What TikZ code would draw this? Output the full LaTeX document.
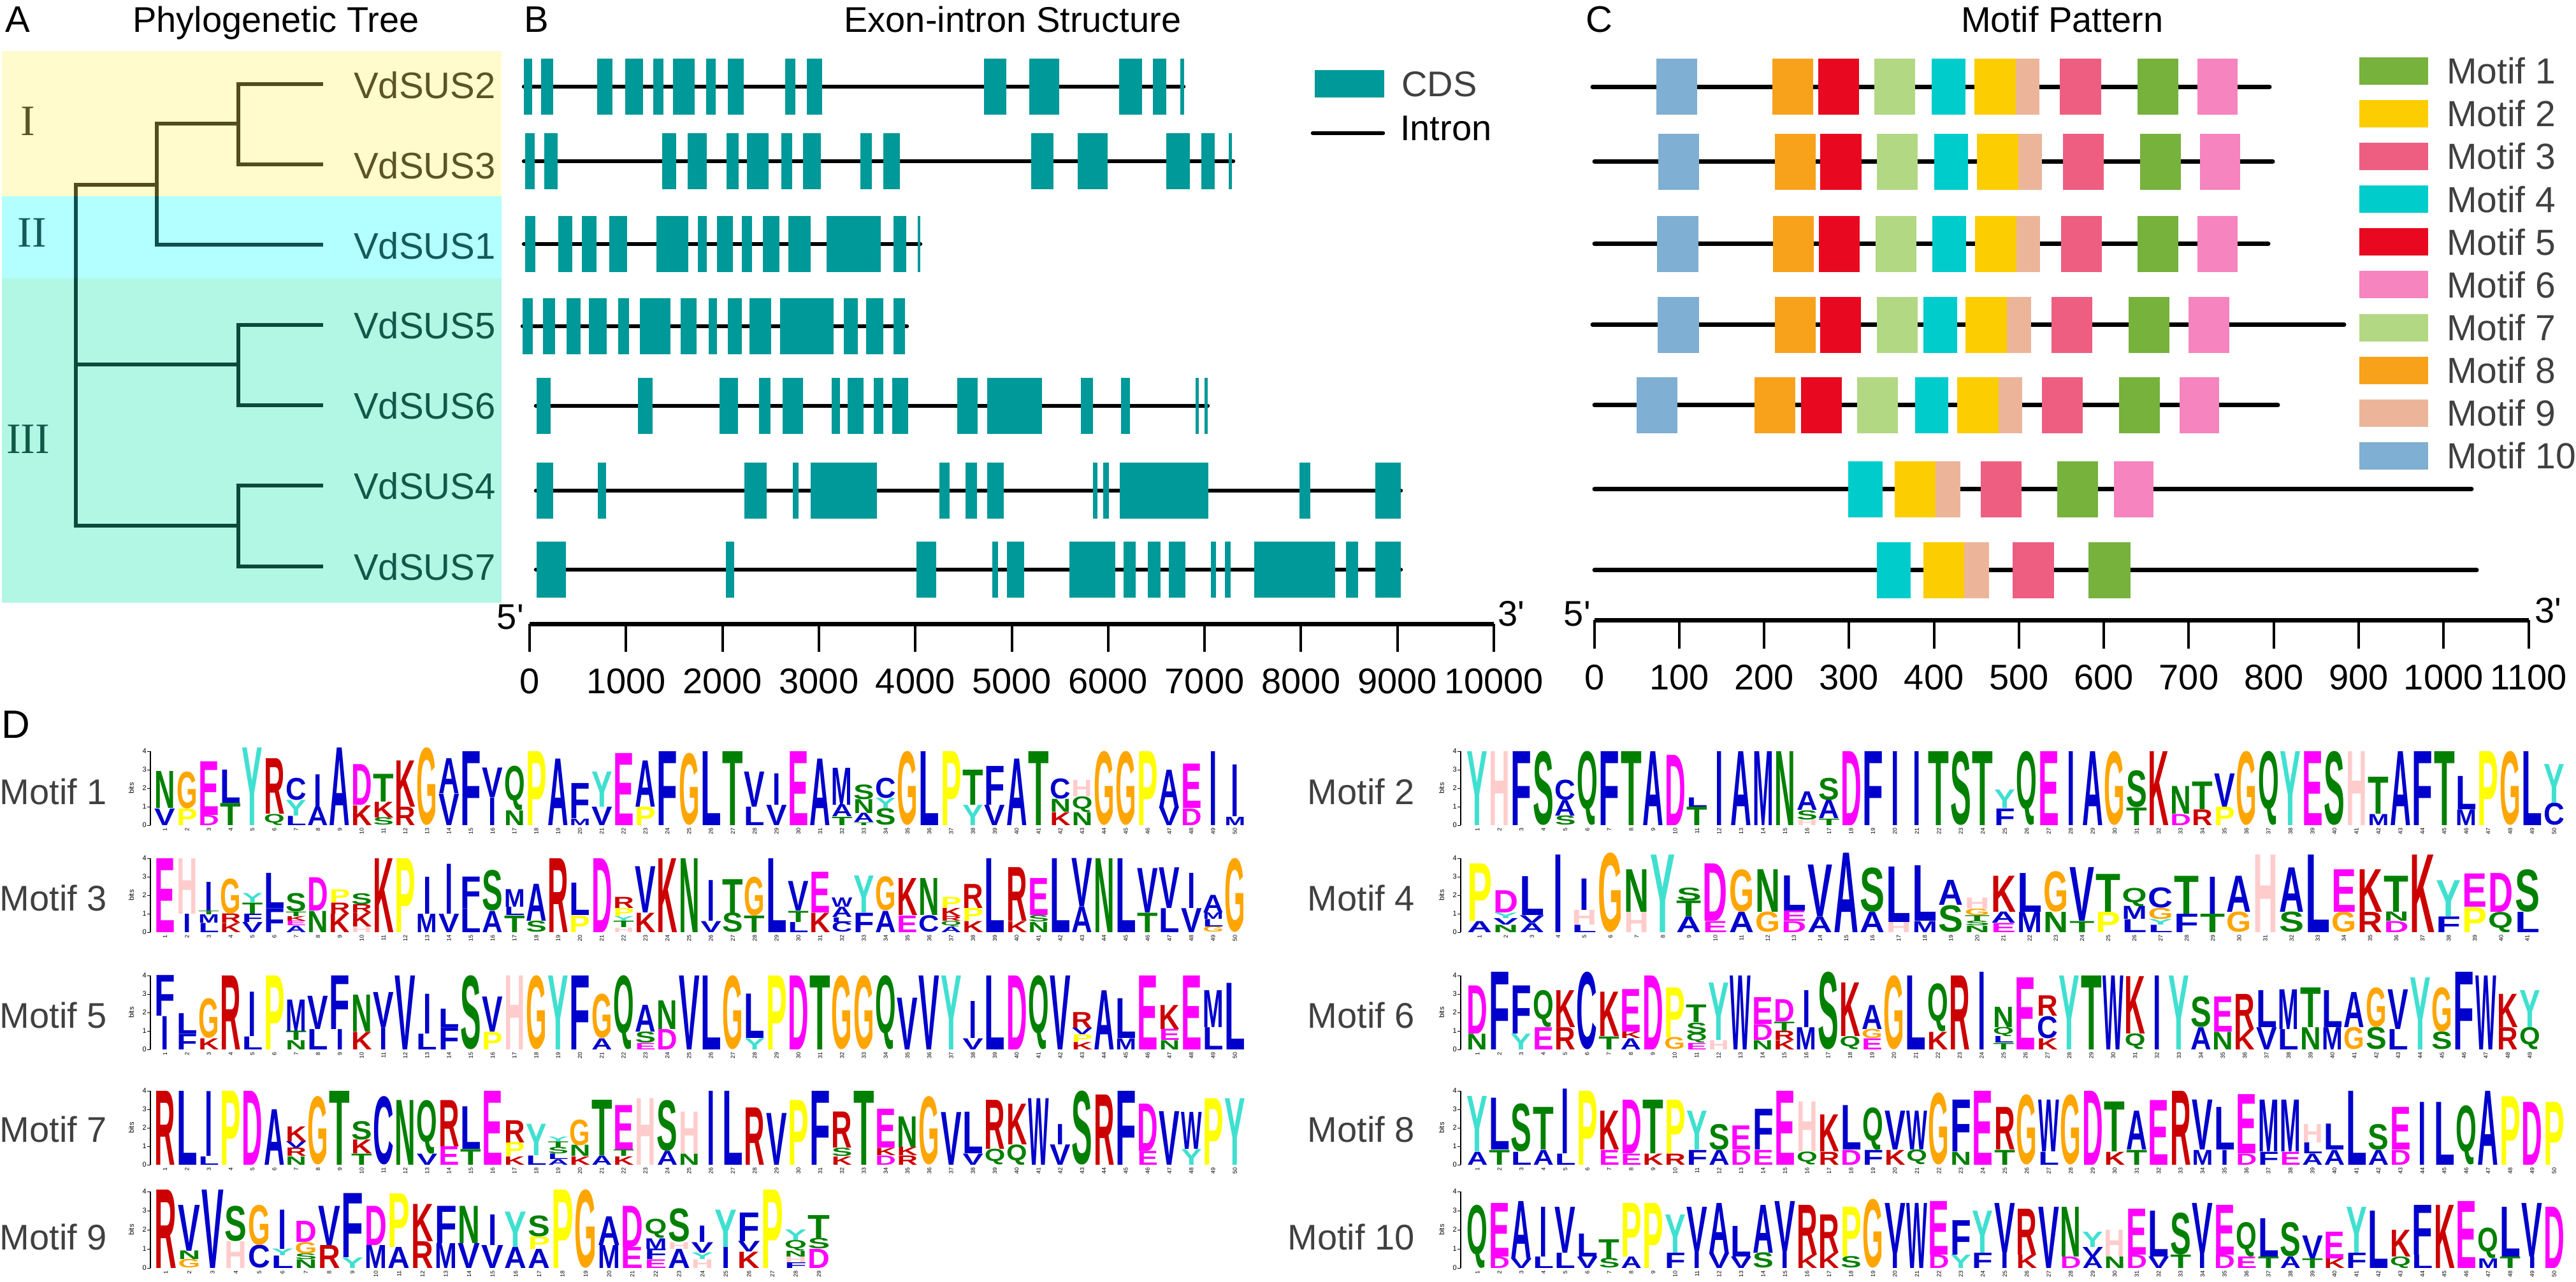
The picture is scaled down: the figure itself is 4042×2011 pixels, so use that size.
\documentclass[tikz,border=0pt]{standalone}
\usepackage{fontspec}
\usepackage{graphicx}
\setmainfont{Liberation Sans}
\newfontfamily\plainsans{Liberation Sans}
\newfontfamily\serifnum{Liberation Serif}
\definecolor{yelband}{RGB}{255,251,204}
\definecolor{cyaband}{RGB}{179,255,255}
\definecolor{mintband}{RGB}{178,246,228}
\definecolor{olv}{RGB}{84,76,30}
\definecolor{olvtxt}{RGB}{92,84,36}
\definecolor{tealII}{RGB}{14,80,80}
\definecolor{tealIItxt}{RGB}{20,90,90}
\definecolor{tealIII}{RGB}{12,74,60}
\definecolor{tealIIItxt}{RGB}{16,88,72}
\definecolor{cdscol}{RGB}{0,153,153}
\definecolor{legtext}{RGB}{64,64,64}
\definecolor{m1}{RGB}{118,178,60}
\definecolor{m2}{RGB}{252,205,0}
\definecolor{m3}{RGB}{238,94,128}
\definecolor{m4}{RGB}{0,204,204}
\definecolor{m5}{RGB}{232,9,33}
\definecolor{m6}{RGB}{246,132,190}
\definecolor{m7}{RGB}{178,216,132}
\definecolor{m8}{RGB}{248,162,28}
\definecolor{m9}{RGB}{236,181,154}
\definecolor{m10}{RGB}{127,175,210}
% amino acid colours
\definecolor{cA}{RGB}{0,0,204}\definecolor{cC}{RGB}{0,0,204}\definecolor{cF}{RGB}{0,0,204}
\definecolor{cI}{RGB}{0,0,204}\definecolor{cL}{RGB}{0,0,204}\definecolor{cM}{RGB}{0,0,204}
\definecolor{cV}{RGB}{0,0,204}\definecolor{cW}{RGB}{0,0,204}
\definecolor{cN}{RGB}{0,128,0}\definecolor{cQ}{RGB}{0,128,0}\definecolor{cS}{RGB}{0,128,0}\definecolor{cT}{RGB}{0,128,0}
\definecolor{cD}{RGB}{255,0,255}\definecolor{cE}{RGB}{255,0,255}
\definecolor{cK}{RGB}{204,0,0}\definecolor{cR}{RGB}{204,0,0}
\definecolor{cH}{RGB}{255,204,204}
\definecolor{cG}{RGB}{255,165,0}
\definecolor{cP}{RGB}{255,255,0}
\definecolor{cY}{RGB}{64,224,208}
% width factors for narrow letters
\def\wfI{0.38}

\newcommand\drawlogo[5]{% #1 x0, #2 zero line y, #3 column width, #4 px per bit, #5 columns
  \pgfmathsetmacro\ww{#3*0.95}%
  \foreach \stk [count=\ci] in {#5} {%
    \pgfmathsetmacro\xx{#1+(\ci-1)*#3+#3*0.025}%
    \xdef\ybot{#2}%
    \foreach \ltr/\hgt in \stk {%
      \pgfmathsetmacro\hh{\hgt*#4}%
      \ifcsname wf\ltr\endcsname
        \pgfmathsetmacro\wl{\ww*\csname wf\ltr\endcsname}%
      \else
        \let\wl\ww
      \fi
      \pgfmathsetmacro\xl{\xx+(\ww-\wl)/2}%
      \node[anchor=south west,inner sep=0pt,outer sep=0pt] at (\xl,\ybot) {\resizebox*{\wl pt}{\hh pt}{\bfseries\color{c\ltr}\ltr}};%
      \pgfmathsetmacro\nb{\ybot-\hh}%
      \xdef\ybot{\nb}%
    }%
    \node[rotate=90,anchor=east,inner sep=0pt,font=\fontsize{9}{9}\selectfont] at (\xx+#3*0.475,#2+4) {\ci};%
  }%
}
\newcommand\logoaxis[3]{% #1 axis x, #2 zero line y, #3 px per bit
  \draw[line width=1.2pt] (#1,#2) -- (#1,#2-4*#3);
  \foreach \k in {0,...,4} {%
    \draw[line width=1pt] (#1-5,#2-\k*#3) -- (#1,#2-\k*#3);
    \node[anchor=east,inner sep=1pt,font=\fontsize{11}{11}\selectfont] at (#1-5,#2-\k*#3) {\k};
  }
  \node[rotate=90,inner sep=0pt,font=\fontsize{11}{11}\selectfont] at (#1-30,#2-2*#3) {bits};
}

\begin{document}
\begin{tikzpicture}[x=1pt,y=-1pt,
  ttl/.style={font=\fontsize{56}{60}\selectfont,inner sep=0pt,anchor=base},
  plbl/.style={font=\fontsize{58}{60}\selectfont,inner sep=0pt,anchor=base west},
  leaf/.style={font=\fontsize{58}{60}\selectfont,inner sep=0pt,anchor=west},
  roman/.style={font=\serifnum\fontsize{68}{70}\selectfont,inner sep=0pt},
  axlbl/.style={font=\fontsize{56}{60}\selectfont,inner sep=0pt},
  primelbl/.style={font=\plainsans\fontsize{56}{60}\selectfont,inner sep=0pt},
  treeln/.style={line width=6pt},
  intron/.style={line width=6.5pt,line cap=round},
  axisln/.style={line width=7pt},
  tickln/.style={line width=4pt},
  leg/.style={font=\fontsize{57}{60}\selectfont,inner sep=0pt,anchor=west,text=legtext},
  mlab/.style={font=\fontsize{56}{60}\selectfont,inner sep=0pt,anchor=east,text=legtext}]
\useasboundingbox (0,0) rectangle (4042,2011);
\fill[white] (0,0) rectangle (4042,2011);

% ================= Panel A =================
\node[plbl] (labA) at (8,50) {A};
\node[ttl] (titA) at (433,50) {Phylogenetic Tree};
\fill[yelband] (3,80) rectangle (787,307.5);
\fill[cyaband] (3,307.5) rectangle (787,436.6);
\fill[mintband] (3,436.6) rectangle (787,946);
\node[roman,text=olvtxt] (rI) at (44,190) {I};
\node[roman,text=tealIItxt] (rII) at (50,365) {II};
\node[roman,text=tealIIItxt] (rIII) at (44,689) {III};

\coordinate (root) at (119,290.1);
\coordinate (nA) at (246,290.1);
\coordinate (nB) at (374,193.6);
\coordinate (nC) at (374,572.4);
\coordinate (nD) at (374,825.2);
\coordinate (e2) at (507,131.9);
\coordinate (e3) at (507,258.1);
\coordinate (e1) at (507,384.4);
\coordinate (e5) at (507,509.5);
\coordinate (e6) at (507,635.8);
\coordinate (e4) at (507,761.5);
\coordinate (e7) at (507,889);

\draw[treeln,olv] (119,307.5) -- (root) -- (nA) -- (246,193.6) -- (nB);
\draw[treeln,olv] (nA) -- (246,307.5);
\draw[treeln,olv] (nB) |- (e2);
\draw[treeln,olv] (nB) |- (e3);
\draw[treeln,tealII] (246,307.5) |- (e1);
\draw[treeln,tealII] (119,307.5) -- (119,436.6);
\draw[treeln,tealIII] (119,436.6) |- (nD);
\draw[treeln,tealIII] (119,572.4) -- (nC);
\draw[treeln,tealIII] (nC) |- (e5);
\draw[treeln,tealIII] (nC) |- (e6);
\draw[treeln,tealIII] (nD) |- (e4);
\draw[treeln,tealIII] (nD) |- (e7);

\node[leaf,text=olvtxt] (t2) at (555,134) {VdSUS2};
\node[leaf,text=olvtxt] (t3) at (555,260) {VdSUS3};
\node[leaf,text=tealIItxt] (t1) at (555,386) {VdSUS1};
\node[leaf,text=tealIIItxt] (t5) at (555,511) {VdSUS5};
\node[leaf,text=tealIIItxt] (t6) at (555,637) {VdSUS6};
\node[leaf,text=tealIIItxt] (t4) at (555,763) {VdSUS4};
\node[leaf,text=tealIIItxt] (t7) at (555,890) {VdSUS7};

% ================= Panel B =================
\node[plbl] (labB) at (822,50) {B};
\node[ttl] (titB) at (1589,50) {Exon-intron Structure};

\newcommand\generow[4]{% y, start, end, exons
  \draw[intron] (#2,#1) -- (#3,#1);
  \foreach \a/\b in {#4} {\fill[cdscol] (\a,#1-44) rectangle (\b,#1+44);}
}
\generow{136}{822}{1857}{822/835,849/868,937/961,981/1009,1025/1041,1056/1090,1108/1123,1142/1167,1232/1248,1266/1290,1544/1579,1615/1662,1756/1792,1809/1830,1852/1858}
\generow{253}{822}{1935}{824/839,854/875,1039/1061,1079/1109,1140/1159,1172/1206,1226/1243,1260/1288,1350/1368,1386/1412,1618/1653,1691/1738,1830/1867,1885/1906,1928/1933}
\generow{383}{822}{1444}{824/840,876/898,913/936,956/984,1030/1080,1095/1109,1125/1150,1164/1180,1197/1223,1237/1272,1297/1382,1402/1422,1440/1444}
\generow{512}{820}{1423}{820/836,852/871,889/911,924/952,970/987,1004/1052,1068/1093,1112/1125,1142/1164,1176/1210,1224/1308,1324/1346,1359/1386,1402/1420}
\generow{637}{841}{1895}{842/864,1001/1024,1129/1158,1191/1209,1228/1260,1305/1318,1330/1355,1371/1386,1400/1425,1502/1534,1549/1635,1696/1715,1759/1773,1876/1881,1890/1895}
\generow{770}{841}{2198}{842/868,938/951,1168/1203,1244/1253,1272/1376,1474/1490,1515/1533,1549/1575,1715/1722,1731/1740,1757/1896,2039/2056,2158/2198}
\generow{894}{841}{2198}{842/888,1139/1152,1438/1469,1557/1566,1580/1607,1678/1750,1763/1782,1801/1821,1834/1860,1900/1908,1922/1931,1968/2095,2112/2131,2158/2198}

% legend B
\fill[cdscol] (2063,110) rectangle (2172,153);
\node[leaf,font=\fontsize{56}{60}\selectfont,text=legtext] (legcds) at (2199,132) {CDS};
\coordinate (intA) at (2060,209);
\coordinate (intB) at (2170,209);
\draw[intron] (intA) -- (intB);
\node[leaf,font=\fontsize{56}{60}\selectfont] (legint) at (2197,202) {Intron};

% axis B
\coordinate (axB0) at (831,979);
\coordinate (axB1) at (2344,979);
\draw[axisln] (axB0) -- (axB1);
\foreach \k in {0,...,10} {
  \pgfmathsetmacro\tx{831+151.3*\k}
  \draw[tickln] (\tx,979) -- (\tx,1023);
  \pgfmathtruncatemacro\lab{\k*1000}
  \node[axlbl] at (\tx,1069) {\lab};
}
\node[primelbl,anchor=base east] (fiveB) at (822,987) {5'};
\node[primelbl,anchor=base west] (threeB) at (2350,982) {3'};

% ================= Panel C =================
\node[plbl] (labC) at (2488,50) {C};
\node[ttl] (titC) at (3236,50) {Motif Pattern};

\newcommand\protrow[4]{% y, start, end, motifs
  \draw[intron,line width=7pt] (#2,#1) -- (#3,#1);
  \foreach \a/\b/\m in {#4} {\fill[fill=m\m] (\a,#1-44) rectangle (\b,#1+44);}
}
\protrow{136.4}{2499}{3561}{2599/2663/10,2781/2845/8,2853/2917/5,2941/3005/7,3031/3084/4,3098/3163/2,3163/3200/9,3232/3297/3,3354/3418/1,3448/3511/6}
\protrow{253.6}{2502}{3566}{2602/2666/10,2785/2849/8,2856/2921/5,2945/3009/7,3035/3088/4,3102/3167/2,3167/3204/9,3237/3301/3,3358/3422/1,3452/3515/6}
\protrow{382.7}{2502}{3559}{2600/2665/10,2782/2846/8,2854/2918/5,2943/3007/7,3032/3085/4,3099/3164/2,3164/3201/9,3234/3298/3,3354/3418/1,3448/3511/6}
\protrow{509.5}{2499}{3678}{2601/2666/10,2785/2849/8,2856/2920/5,2945/3009/7,3018/3071/4,3084/3149/2,3149/3187/9,3219/3283/3,3340/3404/1,3434/3498/6}
\protrow{635.8}{2502}{3574}{2568/2632/10,2753/2817/8,2826/2890/5,2914/2978/7,3005/3057/4,3071/3136/2,3136/3173/9,3204/3268/3,3325/3389/1,3420/3482/6}
\protrow{767.6}{2502}{3878}{2900/2954/4,2973/3037/2,3037/3076/9,3108/3172/3,3228/3292/1,3317/3379/6}
\protrow{894.7}{2502}{3886}{2945/2998/4,3018/3082/2,3082/3121/9,3158/3223/3,3277/3343/1}

% legend C
\foreach \i in {1,...,10} {
  \pgfmathsetmacro\ly{111.4+67.1*(\i-1)}
  \fill[fill=m\i] (3702,\ly-21.5) rectangle (3810,\ly+21.5);
  \node[leg] (legm\i) at (3839,\ly) {Motif \i};
}

% axis C
\coordinate (axC0) at (2501.6,973);
\coordinate (axC1) at (3967.5,973);
\draw[axisln] (axC0) -- (axC1);
\foreach \k in {0,...,11} {
  \pgfmathsetmacro\tx{2501.6+133.26*\k}
  \draw[tickln] (\tx,973) -- (\tx,1018);
  \pgfmathtruncatemacro\lab{\k*100}
  \node[axlbl] at (\tx,1063) {\lab};
}
\node[primelbl,anchor=base east] (fiveC) at (2496,982) {5'};
\node[primelbl,anchor=base west] (threeC) at (3977,977) {3'};

% ================= Panel D =================
\node[plbl,font=\fontsize{62}{64}\selectfont] (labD) at (2,1158) {D};

% labels
\node[mlab] (ml1) at (168,1242) {Motif 1};
\node[mlab] (ml3) at (168,1409) {Motif 3};
\node[mlab] (ml5) at (168,1593) {Motif 5};
\node[mlab] (ml7) at (168,1772) {Motif 7};
\node[mlab] (ml9) at (168,1941) {Motif 9};
\node[mlab] (ml2) at (2220,1242) {Motif 2};
\node[mlab] (ml4) at (2220,1409) {Motif 4};
\node[mlab] (ml6) at (2220,1593) {Motif 6};
\node[mlab] (ml8) at (2220,1772) {Motif 8};
\node[mlab] (ml10) at (2220,1941) {Motif 10};

\logoaxis{236}{1295}{29}
\logoaxis{236}{1463}{29}
\logoaxis{236}{1647}{29}
\logoaxis{236}{1828}{29}
\logoaxis{236}{1990}{30}
\logoaxis{2292}{1295}{29}
\logoaxis{2292}{1463}{29}
\logoaxis{2292}{1647}{29}
\logoaxis{2292}{1828}{29}
\logoaxis{2292}{1990}{30}

% Motif 1
\drawlogo{242}{1295}{34.26}{29}{{V/0.9,N/2.0},{P/0.9,G/2.0},{D/0.55,E/2.9},{T/1.2,L/1.8},{Y/4.2},{Q/0.6,R/3.0},{L/0.5,Y/0.85,C/1.2},{A/1.0,I/1.75},{A/4.2},{K/1.07,D/2.2},{S/0.4,K/0.85,T/1.5},{R/1.0,K/2.5},{G/4.2},{V/1.7,A/1.9},{F/4.0},{I/1.5,V/1.6},{N/0.8,Q/2.4},{P/4.0},{A/3.6},{M/0.35,F/1.9},{V/1.0,Y/1.9},{E/3.9},{P/1.0,A/2.5},{F/4.0},{G/3.9},{L/4.0},{T/4.0},{L/1.0,V/1.9},{V/1.1,I/1.7},{E/4.0},{A/3.6},{T/0.45,A/0.65,M/2.0},{T/0.15,A/0.5,N/0.75,S/0.8},{S/0.9,Y/0.55,C/1.1},{G/4.0},{L/4.0},{P/4.0},{Y/1.1,T/1.9},{V/1.1,F/2.1},{A/3.6},{T/4.0},{K/0.7,N/0.7,C/1.1},{N/0.7,Q/0.85,H/0.9},{G/4.0},{G/4.0},{P/4.0},{V/1.0,A/2.0},{D/0.9,E/2.4},{I/4.0},{M/0.45,I/2.8}}

% Motif 2
\drawlogo{2301}{1295}{34.48}{29}{{Y/4.0},{H/4.0},{F/4.0},{S/4.0},{S/0.5,A/0.85,C/1.1},{Q/4.0},{F/4.0},{T/4.0},{A/4.0},{D/3.8},{T/1.0,L/0.5},{I/4.0},{A/4.0},{M/4.0},{N/4.0},{H/0.3,S/0.5,A/1.0},{T/0.35,A/1.0,S/1.2},{D/4.0},{F/4.0},{I/4.0},{I/4.0},{T/4.0},{S/4.0},{T/4.0},{F/0.9,Y/1.0},{Q/4.0},{E/4.0},{I/4.0},{A/4.0},{G/4.0},{T/0.95,S/2.0},{K/4.0},{D/0.6,N/1.5},{R/0.85,T/1.5},{P/1.0,V/1.8},{G/4.0},{Q/4.0},{Y/4.0},{E/4.0},{S/4.0},{H/4.0},{M/0.6,T/2.0},{A/4.0},{F/4.0},{T/4.0},{M/0.85,L/1.8},{P/4.0},{G/4.0},{L/4.0},{C/1.2,Y/2.1}}

% Motif 3
\drawlogo{242}{1463}{34.26}{29}{{E/4.0},{I/1.0,H/3.0},{L/0.5,M/0.45,T/0.2,I/1.55},{K/0.5,R/0.5,G/1.9},{V/0.55,F/0.45,T/0.6,Y/0.5},{F/1.3,L/1.9},{A/0.35,E/0.25,K/0.25,T/0.25,S/1.0},{N/1.15,D/1.8},{K/1.0,R/0.6,P/0.7},{H/0.3,K/0.75,R/0.45,S/0.6},{K/4.0},{P/4.0},{M/1.0,I/2.0},{V/1.0,I/2.7},{L/1.3,F/1.7},{A/1.15,S/2.2},{T/0.9,L/0.45,M/0.95},{S/0.6,A/2.0},{R/4.0},{P/0.9,L/1.75},{D/4.0},{H/0.25,T/0.35,Y/0.25,P/0.45,R/0.6},{K/1.05,V/2.5},{K/4.0},{N/4.0},{V/0.6,I/2.2},{S/1.05,T/1.8},{T/0.9,G/2.1},{L/4.0},{L/0.55,T/0.6,V/1.6},{K/1.05,E/2.2},{C/0.55,L/0.25,A/0.55,W/0.5},{F/1.05,Y/2.0},{A/1.15,G/1.85},{E/0.9,K/2.0},{C/0.9,N/2.0},{A/0.3,Q/0.3,R/0.25,K/0.45,P/0.6},{K/0.6,P/0.7,R/1.3},{L/4.0},{K/0.6,R/2.9},{N/0.55,S/0.35,E/2.0},{L/4.0},{A/1.4,V/2.6},{N/4.0},{L/4.0},{T/1.05,V/2.4},{L/1.3,V/2.2},{V/1.3,I/1.9},{G/0.3,L/0.4,M/0.35,A/0.95},{G/4.0}}

% Motif 4
\drawlogo{2301}{1463}{41.1}{29}{{A/0.6,P/3.1},{N/0.4,V/0.35,Y/0.3,D/1.2},{A/0.5,V/0.4,L/2.1},{I/4.2},{L/0.4,H/0.8,I/1.7},{G/4.3},{H/1.1,N/2.3},{Y/4.2},{A/0.85,T/0.85,S/0.7},{E/0.6,D/3.1},{A/1.1,G/2.3},{G/1.1,N/2.3},{D/0.6,E/0.55,L/1.9},{A/0.85,V/2.8},{A/4.3},{A/1.1,S/2.4},{H/0.55,L/3.0},{M/0.6,L/3.0},{S/1.45,A/1.35},{N/0.35,S/0.25,T/0.3,G/0.35,H/0.6},{E/0.5,A/0.6,K/1.95},{M/1.1,L/2.1},{N/1.1,G/2.2},{T/0.6,V/2.9},{P/1.1,T/2.05},{L/0.7,M/0.7,Q/1.0},{L/0.4,Y/0.3,G/0.6,C/1.1},{F/1.0,T/2.05},{T/1.0,I/2.0},{G/1.1,A/1.95},{H/4.2},{S/1.1,A/2.4},{L/4.2},{G/1.1,E/2.3},{R/1.1,K/2.3},{D/0.6,N/0.5,T/1.95},{K/4.2},{F/0.85,Y/1.95},{P/1.35,E/1.8},{Q/1.1,D/2.1},{L/1.1,S/2.3}}

% Motif 5
\drawlogo{242}{1647}{34.26}{29}{{I/1.8,F/2.2},{F/0.85,L/1.1},{K/0.6,G/2.15},{R/4.0},{L/0.7,I/2.4},{P/4.0},{N/0.5,T/0.5,M/1.7},{L/1.1,V/1.8},{I/1.1,F/2.9},{K/0.95,N/2.0},{I/1.2,V/1.9},{V/4.0},{L/0.85,I/2.15},{F/1.2,L/1.0},{S/4.0},{P/0.95,V/1.9},{H/4.0},{G/4.0},{Y/4.0},{F/4.0},{A/0.6,G/2.4},{Q/4.0},{E/0.35,S/0.6,A/1.45},{D/1.1,N/1.55},{V/4.0},{L/4.0},{G/4.0},{Y/0.6,L/2.4},{P/4.0},{D/4.0},{T/4.0},{G/4.0},{G/4.0},{Q/4.0},{V/2.8},{V/4.0},{Y/4.0},{V/0.6,I/2.0},{L/4.0},{D/4.0},{Q/4.0},{V/4.0},{K/0.4,P/0.4,V/0.35,R/0.85},{A/3.2},{M/0.6,L/2.15},{E/4.0},{N/0.5,E/0.6,K/1.3},{E/4.0},{L/1.2,M/2.0},{L/3.6}}

% Motif 6
\drawlogo{2301}{1647}{34.4}{29}{{N/0.85,D/2.6},{F/4.2},{Y/0.85,F/2.6},{E/1.2,Q/2.0},{R/1.2,K/2.0},{C/4.2},{T/0.7,K/2.4},{A/0.6,K/0.35,E/2.3},{D/4.0},{G/0.65,P/2.7},{E/0.35,Q/0.5,S/0.6,T/0.95},{H/0.5,Y/3.1},{W/4.0},{N/0.5,D/0.85,E/1.45},{K/0.5,R/0.5,T/0.5,D/1.2},{M/1.2,I/2.0},{S/4.2},{Q/0.7,K/2.9},{E/0.6,G/0.5,A/1.3},{G/4.0},{L/4.0},{K/0.95,Q/2.6},{R/4.0},{I/4.2},{T/0.35,L/0.35,Q/0.5,N/1.1},{E/3.9},{K/0.6,C/1.2,R/1.1},{Y/4.0},{T/4.0},{W/4.0},{Q/0.85,K/3.1},{I/4.0},{Y/4.0},{A/1.2,S/1.65},{N/0.95,E/1.9},{K/1.1,R/1.9},{V/1.2,L/2.0},{L/1.1,M/2.15},{N/1.2,T/2.15},{M/1.2,L/2.0},{G/1.2,A/1.9},{S/1.2,G/2.15},{L/1.1,V/2.15},{Y/3.9},{S/0.95,G/2.4},{F/4.2},{W/4.0},{R/1.2,K/1.8},{Q/1.2,Y/2.0}}

% Motif 7
\drawlogo{242}{1828}{34.26}{29}{{R/4.0},{L/4.0},{L/0.45,I/3.5},{P/4.0},{D/4.0},{A/3.0},{N/0.45,R/0.45,V/0.35,K/0.8},{G/3.7},{T/4.0},{T/0.6,K/0.75,S/1.0},{C/3.7},{N/3.5},{V/0.6,Q/2.9},{E/1.0,R/2.5},{T/0.85,L/2.3},{E/4.0},{K/0.45,P/0.75,R/1.2},{L/0.5,Y/1.7},{A/0.3,L/0.3,S/0.35,T/0.3,Y/0.25},{K/0.45,N/0.6,G/1.4},{A/0.5,T/3.0},{K/0.45,T/0.35,E/2.4},{H/3.6},{A/0.75,S/2.75},{N/0.6,H/2.25},{I/4.0},{L/4.0},{R/3.1},{V/2.8},{P/3.5},{F/4.0},{K/0.45,S/0.45,R/1.95},{T/4.0},{D/0.5,K/0.4,E/2.1},{R/0.5,K/0.45,N/1.65},{G/3.7},{V/2.85},{V/0.6,L/2.25},{Q/0.85,R/2.65},{Q/1.1,K/2.2},{W/3.6},{V/1.1,I/1.1},{S/4.0},{R/3.8},{F/4.0},{E/0.75,D/2.55},{V/2.9},{Y/0.85,W/2.0},{P/3.6},{Y/3.6}}

% Motif 8
\drawlogo{2301}{1828}{34.48}{29}{{A/0.7,Y/3.0},{T/0.8,L/2.8},{L/0.7,S/2.6},{A/0.8,T/2.3},{L/0.6,I/3.5},{P/4.0},{E/0.8,K/2.1},{E/0.6,D/2.9},{K/0.6,T/2.9},{R/0.6,P/2.9},{F/0.8,Y/2.1},{A/0.8,S/1.4},{D/0.8,E/1.3},{E/0.8,F/2.2},{E/4.0},{Q/0.7,H/2.7},{R/0.7,K/2.0},{D/0.8,L/2.4},{F/0.8,Q/2.3},{K/0.8,V/2.1},{Q/0.8,W/2.1},{G/3.9},{N/0.7,F/2.8},{E/4.0},{T/0.8,R/2.3},{G/3.8},{L/0.7,W/2.8},{G/3.8},{D/4.0},{K/0.7,T/2.7},{T/0.8,A/2.1},{E/3.5},{R/4.0},{M/0.8,V/2.7},{I/0.8,L/2.3},{D/0.6,E/3.2},{F/0.7,M/2.8},{E/0.7,M/2.8},{A/0.6,L/0.6,H/1.0},{A/0.8,L/1.4},{L/4.0},{A/0.8,S/1.4},{D/0.8,E/2.3},{I/3.4},{L/3.4},{Q/3.2},{A/4.0},{P/3.7},{D/3.4},{P/3.4}}

% Motif 9
\drawlogo{242}{1990}{36.6}{30}{{R/4.1},{G/0.45,N/0.45,V/2.4},{V/4.1},{H/1.4,S/1.85},{C/1.2,G/2.1},{L/0.65,Y/0.35,I/2.05},{N/0.45,S/0.3,G/0.6,D/1.1},{R/1.2,V/2.05},{Y/0.55,F/3.35},{M/1.2,D/2.05},{A/1.1,P/2.8},{R/1.4,K/1.95},{M/1.3,F/1.95},{V/1.3,N/1.95},{V/1.2,I/1.6},{A/1.1,Y/1.85},{A/1.0,P/0.65,S/1.1},{P/4.1},{G/4.1},{M/1.2,A/1.5},{E/1.1,D/2.15},{E/0.45,F/0.55,M/0.55,Q/1.0},{A/1.0,H/0.35,S/1.75},{H/0.45,Y/0.35,V/0.55,I/0.85},{I/1.1,Y/1.95},{K/0.85,V/0.55,F/1.5},{P/4.1},{F/0.3,H/0.3,N/0.3,Q/0.55,Y/0.55},{D/1.0,S/0.55,T/1.2}}

% Motif 10
\drawlogo{2301}{1990}{34.48}{30}{{Q/3.3},{D/0.6,E/2.8},{V/0.5,A/3.0},{L/0.6,I/2.6},{L/0.8,V/2.4},{V/0.6,L/1.2},{S/0.5,T/1.0},{A/0.6,P/2.8},{P/3.4},{F/0.8,Y/2.0},{I/0.9,V/2.3},{V/0.8,A/2.6},{V/0.6,L/1.6},{S/0.8,A/2.5},{I/0.9,V/2.6},{K/0.7,R/2.6},{K/0.8,R/2.0},{S/0.6,P/2.6},{G/3.6},{I/0.8,V/2.6},{W/3.4},{D/0.7,E/2.8},{Y/0.7,F/1.8},{F/0.8,Y/2.2},{I/0.8,V/2.6},{K/0.7,R/2.4},{V/3.2},{D/0.6,N/2.6},{A/0.6,V/0.5,Y/0.8},{N/0.6,H/1.4},{D/0.7,E/2.4},{V/0.6,L/2.4},{T/0.7,S/2.2},{I/0.8,V/2.6},{D/0.7,E/2.6},{E/0.6,Q/1.8},{T/0.6,L/2.0},{A/0.6,S/1.8},{T/0.5,V/1.2},{K/0.5,E/1.4},{F/0.8,Y/2.4},{L/3.0},{Q/0.6,K/1.4},{L/0.7,F/2.6},{K/3.3},{E/3.5},{M/0.5,Q/1.6},{T/0.6,L/2.6},{I/0.6,V/2.8},{D/3.2}}

\end{tikzpicture}
\end{document}
